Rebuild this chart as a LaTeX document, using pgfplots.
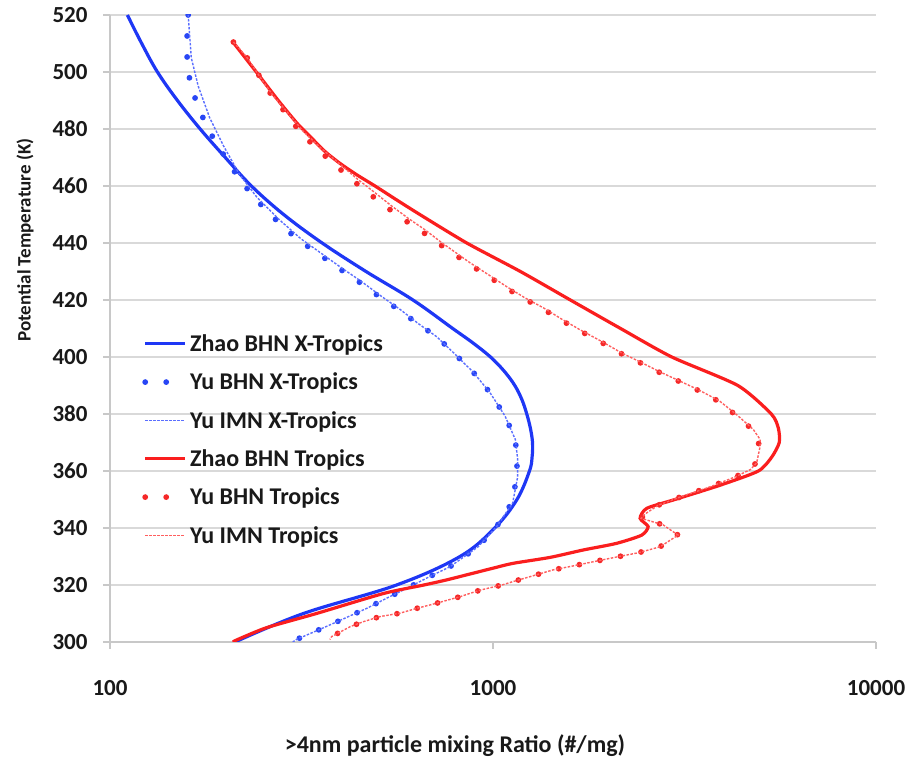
\documentclass[border=0pt]{standalone}
\usepackage{pgfplots}
\pgfplotsset{compat=1.18}
\usepackage{fontspec}
\setmainfont{Carlito}
\definecolor{zb}{RGB}{30,55,245}
\definecolor{yb}{RGB}{40,70,245}
\definecolor{ib}{RGB}{90,110,255}
\definecolor{zr}{RGB}{250,30,30}
\definecolor{yr}{RGB}{245,40,40}
\definecolor{ir}{RGB}{255,95,95}
\definecolor{gridc}{RGB}{217,217,217}
\definecolor{axisc}{RGB}{200,200,200}
\definecolor{txt}{RGB}{25,25,25}
\begin{document}
\begin{tikzpicture}
\path[use as bounding box] (-110pt,-126pt) rectangle (811pt,642pt);
\begin{axis}[
  at={(0pt,0pt)}, anchor=south west,
  scale only axis, width=766pt, height=627pt,
  xmode=log, xmin=100, xmax=10000, ymin=300, ymax=520,
  xtick={100,1000,10000}, xticklabels={100,1000,10000},
  xminorticks=false,
  ytick={300,320,...,520},
  ymajorgrids, xmajorgrids=false,
  grid style={gridc, line width=1.5pt},
  axis x line*=bottom, axis y line*=left,
  axis line style={axisc, line width=1.5pt},
  tick style={axisc, line width=1.2pt},
  tick align=outside, major tick length=7pt,
  /pgf/number format/assume math mode=true,
  xticklabel style={font=\fontsize{23}{27}\selectfont\bfseries, text=txt, yshift=-28pt},
  yticklabel style={font=\fontsize{23}{27}\selectfont\bfseries, text=txt, xshift=-12pt},
  legend style={at={(0.038,0.497)}, anchor=north west, draw=none, fill=none,
    font=\fontsize{24}{28}\selectfont\bfseries, text=txt, row sep=16pt},
  legend cell align=left,
  legend image code/.code={\draw[#1] (0pt,0pt) -- (40pt,0pt);},
]
% Zhao BHN X-Tropics
\addplot[zb, line width=3.2pt, smooth, tension=0.6] coordinates {
(111,520) (121,510) (133,500) (150,490) (172,480) (200,470) (234,460) (284,450) (358,440) (466,430) (618,420) (785,410) (885,405) (985,400) (1070,395) (1140,390) (1190,385) (1225,380) (1252,375) (1268,370) (1265,365) (1245,360) (1155,350) (1010,340) (820,330) (560,320) (320,310) (212,300)
};
\addlegendentry{Zhao BHN X-Tropics}
% Yu BHN X-Tropics
\addplot[yb, line width=5.8pt, line cap=round, dash pattern=on 0pt off 21pt] coordinates {
(160,520) (159,513) (159,503.5) (162,496) (170,487.5) (182,479) (198,471) (215,463.5) (236,456.5) (262,450) (307,441.5) (348,436.5) (392,431.5) (442,426.8) (502,421.4) (566,416.7) (637,411.6) (713,407.1) (793,401.2) (886,394.8) (982,387.5) (1075,379.3) (1144,371) (1155,364) (1155,358) (1118,348.7) (1022,340.5) (914,333.4) (772,326.4) (682,322.9) (607,319.4) (530,315.5) (468,311.8) (387,306.8) (354,304.5) (307,300.9) (300,300)
};
\addlegendentry{Yu BHN X-Tropics}
% Yu IMN X-Tropics
\addplot[ib, line width=1.4pt, dash pattern=on 2.5pt off 1.5pt] coordinates {
(160,520) (163,505) (170,495) (182,484) (198,474) (218,464) (242,456) (275,448.5) (315,441.5) (355,436.5) (400,431.5) (450,426.8) (510,421.4) (572,416.7) (640,411.6) (713,407.1) (793,401.2) (886,394.8) (982,387.5) (1075,379.3) (1144,371) (1160,364) (1160,358) (1125,348.7) (1022,340.5) (914,333.4) (772,326.4) (682,322.9) (607,319.4) (530,315.5) (468,311.8) (387,306.8) (354,304.5) (307,300.9) (300,300)
};
\addlegendentry{Yu IMN X-Tropics}
% Zhao BHN Tropics
\addplot[zr, line width=3.2pt, smooth, tension=0.4] coordinates {
(208,511) (241,500) (275,490) (308,482) (335,477) (365,472) (398,468) (440,464) (492,460) (562,455) (644,450) (854,440) (1179,430) (1592,420) (2153,410) (2930,400) (4357,390) (5330,380) (5560,375) (5590,370) (5350,365) (4930,360) (3915,355) (2985,350) (2520,346.9) (2421,343.4) (2541,340.5) (2445,337.5) (2100,334.6) (1722,332.3) (1411,329.7) (1128,327.6) (1000,325.9) (757,321.8) (660,320) (517,317) (346,310) (256,305) (214,300.7) (210,300)
};
\addlegendentry{Zhao BHN Tropics}
% Yu BHN Tropics
\addplot[yr, line width=5.8pt, line cap=round, dash pattern=on 0pt off 21pt] coordinates {
(210,510.5) (227,505.4) (246,498.4) (264,491.9) (288,485.5) (313,479.1) (346,473.2) (383,468) (424,462.7) (468,458) (519,453.3) (577,448.7) (644,444.6) (716,440.1) (854,433.1) (959,428.8) (1068,424.7) (1193,420.8) (1341,417.1) (1495,413.2) (1669,409.5) (1904,405.4) (2153,401.3) (2421,398) (2701,394.8) (3043,391.6) (3419,388.4) (3865,384.6) (4307,379.6) (4751,374.6) (4938,371.1) (4938,368.5) (4860,362.9) (4700,360.5) (4300,358) (3700,354.5) (3100,351) (2700,348) (2500,345) (2437,343.4) (2780,341.1) (3043,337.5) (2729,333.4) (2393,331.3) (2116,329.9) (1865,328.4) (1620,326.7) (1434,325.3) (1270,323.2) (1128,321.2) (1056,320) (925,318.2) (820,315.9) (712,313.6) (632,311.8) (571,310.1) (506,308.9) (458,307.1) (424,305.4) (379,301.9) (375,300.9)
};
\addlegendentry{Yu BHN Tropics}
% Yu IMN Tropics
\addplot[ir, line width=1.4pt, dash pattern=on 2.5pt off 1.5pt] coordinates {
(210,510.5) (227,505.4) (246,498.4) (266,491.9) (292,485.5) (320,479.1) (356,473.2) (396,468) (440,462.7) (488,458) (540,453.3) (600,448.7) (665,444.6) (735,440.1) (870,433.1) (975,428.8) (1085,424.7) (1210,420.8) (1360,417.1) (1515,413.2) (1690,409.5) (1925,405.4) (2175,401.3) (2445,398) (2725,394.8) (3070,391.6) (3450,388.4) (3900,384.6) (4340,379.6) (4780,374.6) (4980,371.1) (4980,368.5) (4880,362.9) (4700,360.5) (4300,358) (3700,354.5) (3100,351) (2700,348) (2500,345) (2437,343.4) (2780,341.1) (3043,337.5) (2729,333.4) (2393,331.3) (2116,329.9) (1865,328.4) (1620,326.7) (1434,325.3) (1270,323.2) (1128,321.2) (1056,320) (925,318.2) (820,315.9) (712,313.6) (632,311.8) (571,310.1) (506,308.9) (458,307.1) (424,305.4) (379,301.9) (375,300.9)
};
\addlegendentry{Yu IMN Tropics}
\end{axis}
\node[rotate=90, font=\fontsize{19}{23}\selectfont\bfseries, text=txt] at (-85pt,402pt) {Potential Temperature (K)};
\node[font=\fontsize{24}{28}\selectfont\bfseries, text=txt] at (345pt,-104pt) {>4nm particle mixing Ratio (\#/mg)};
\end{tikzpicture}
\end{document}
